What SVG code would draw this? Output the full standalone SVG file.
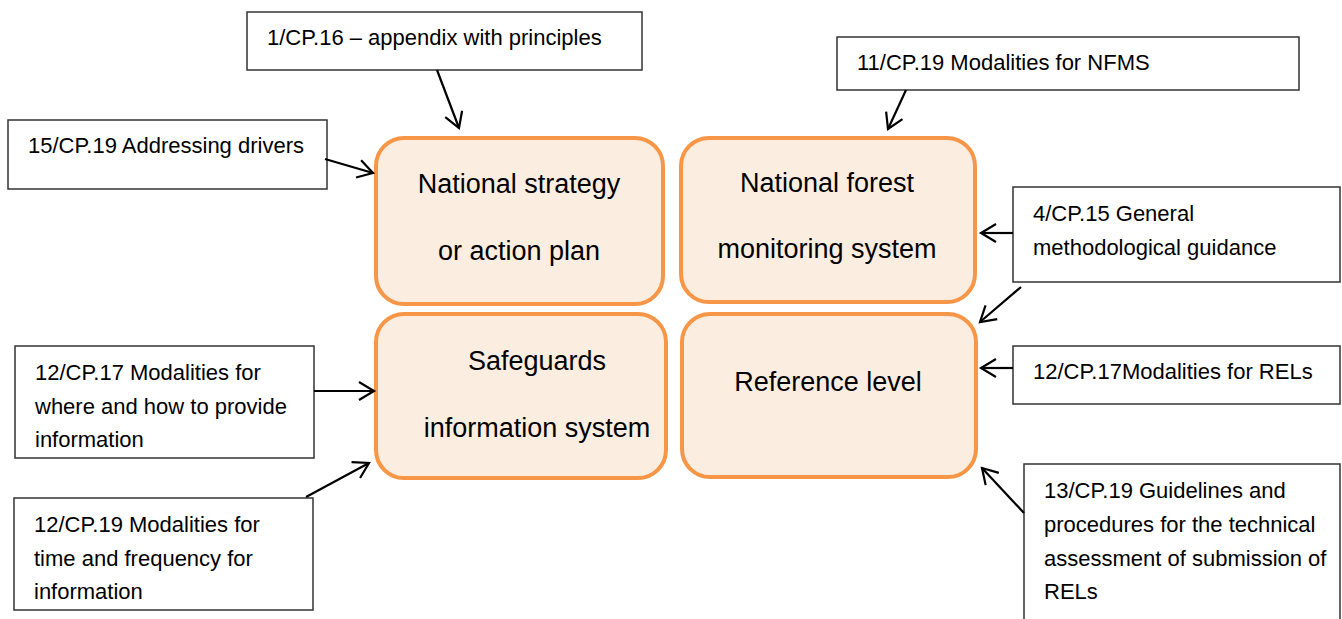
<svg xmlns="http://www.w3.org/2000/svg" width="1342" height="619" viewBox="0 0 1342 619">
<style>
.node{fill:#FCEDE1;stroke:#F79646;stroke-width:4}
.box{fill:#fff;stroke:#333;stroke-width:1.5}
.nt{font-family:"Liberation Sans",Arial,sans-serif;font-size:27px;fill:#000;text-anchor:middle}
.lt{font-family:"Liberation Sans",Arial,sans-serif;font-size:22px;fill:#000}
.conn line{stroke:#000;stroke-width:2.2;marker-end:url(#arr)}
</style>
<defs>
<marker id="arr" markerUnits="userSpaceOnUse" markerWidth="22" markerHeight="22" refX="17" refY="11" orient="auto" viewBox="0 0 22 22">
<path d="M2,2 L17,11 L2,20" fill="none" stroke="#000" stroke-width="2.2"/>
</marker>
</defs>
<rect width="1342" height="619" fill="#fff"/>

<g id="node-strategy"><rect class="node" x="376" y="138" width="287" height="166" rx="28"/>
<text class="nt" x="519" y="193">National strategy</text><text class="nt" x="519" y="260">or action plan</text></g>
<g id="node-nfms"><rect class="node" x="681" y="138" width="294" height="164" rx="28"/>
<text class="nt" x="827" y="192">National forest</text><text class="nt" x="827" y="258">monitoring system</text></g>
<g id="node-sis"><rect class="node" x="376" y="314" width="290" height="164" rx="28"/>
<text class="nt" x="537" y="370">Safeguards</text><text class="nt" x="537" y="437">information system</text></g>
<g id="node-rl"><rect class="node" x="682" y="314" width="294" height="163" rx="28"/>
<text class="nt" x="828" y="391">Reference level</text></g>

<g id="label-1cp16"><rect class="box" x="247" y="12" width="395" height="58"/>
<text class="lt" x="267" y="45">1/CP.16 – appendix with principles</text></g>
<g id="label-15cp19"><rect class="box" x="8" y="120" width="319" height="69"/>
<text class="lt" x="28" y="153">15/CP.19 Addressing drivers</text></g>
<g id="label-11cp19"><rect class="box" x="837" y="37" width="462" height="53"/>
<text class="lt" x="857" y="70">11/CP.19 Modalities for NFMS</text></g>
<g id="label-4cp15"><rect class="box" x="1013" y="187" width="327" height="95"/>
<text class="lt" x="1033" y="221">4/CP.15 General</text><text class="lt" x="1033" y="255">methodological guidance</text></g>
<g id="label-12cp17a"><rect class="box" x="15" y="346" width="299" height="112"/>
<text class="lt" x="35" y="380">12/CP.17 Modalities for</text><text class="lt" x="35" y="414">where and how to provide</text><text class="lt" x="35" y="447">information</text></g>
<g id="label-12cp19"><rect class="box" x="14" y="498" width="299" height="112"/>
<text class="lt" x="34" y="532">12/CP.19 Modalities for</text><text class="lt" x="34" y="566">time and frequency for</text><text class="lt" x="34" y="599">information</text></g>
<g id="label-12cp17b"><rect class="box" x="1013" y="346" width="327" height="58"/>
<text class="lt" x="1033" y="379">12/CP.17Modalities for RELs</text></g>
<g id="label-13cp19"><rect class="box" x="1024" y="464" width="316" height="170"/>
<text class="lt" x="1044" y="498">13/CP.19 Guidelines and</text><text class="lt" x="1044" y="532">procedures for the technical</text><text class="lt" x="1044" y="566">assessment of submission of</text><text class="lt" x="1044" y="599">RELs</text></g>

<g id="connectors" class="conn">
<line x1="437" y1="70" x2="459" y2="128"/>
<line x1="325" y1="159" x2="373" y2="173"/>
<line x1="906" y1="90" x2="888" y2="129"/>
<line x1="1013" y1="233" x2="981" y2="233"/>
<line x1="1021" y1="287" x2="980" y2="322"/>
<line x1="314" y1="391" x2="374" y2="391"/>
<line x1="306" y1="497" x2="369" y2="463"/>
<line x1="1013" y1="368" x2="981" y2="368"/>
<line x1="1024" y1="513" x2="982" y2="468"/>
</g>
</svg>
